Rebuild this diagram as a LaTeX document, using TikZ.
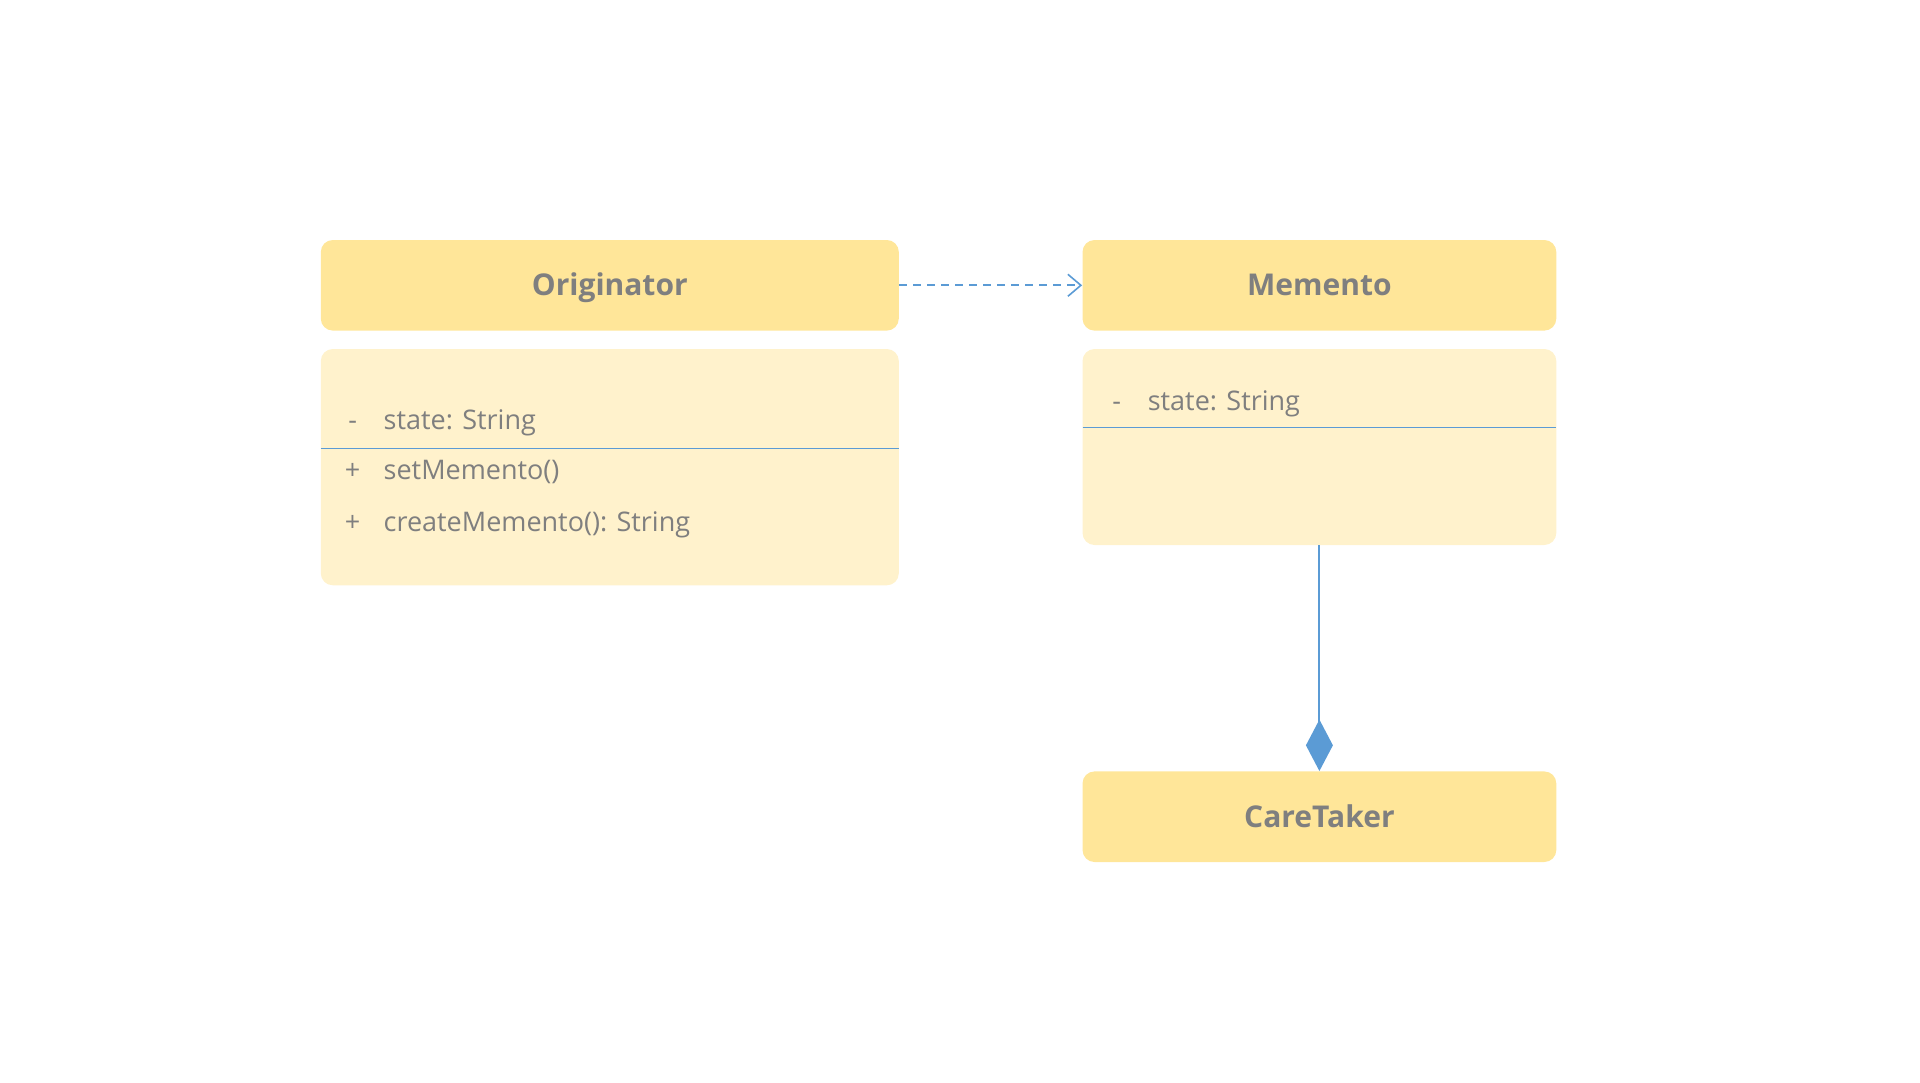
\documentclass[tikz,border=0pt]{standalone}
\usepackage{fontspec}
\setmainfont{Open Sans}
\usetikzlibrary{arrows.meta}
\definecolor{headfill}{HTML}{FFE699}
\definecolor{bodyfill}{HTML}{FFF2CC}
\definecolor{txtgray}{HTML}{7F7F7F}
\definecolor{lineblue}{HTML}{5B9BD5}
\tikzset{
  header/.style={fill=headfill, draw=none, rounded corners=6pt, minimum width=#1, minimum height=45.3pt, inner sep=0pt, text=txtgray, text height=1.06em, text depth=0em, font=\fontsize{15}{18}\selectfont\bfseries},
  bodybox/.style={fill=bodyfill, draw=none, rounded corners=6pt, inner sep=0pt},
  member/.style={anchor=west, inner sep=0pt, text=txtgray, text height=0.75em, text depth=0.22em, font=\fontsize{13.5}{16}\selectfont},
  vis/.style={anchor=center, inner sep=0pt, text=txtgray, text height=0.75em, text depth=0.22em, font=\fontsize{13.5}{16}\selectfont},
  sepline/.style={draw=lineblue, line width=0.5pt},
  depend/.style={draw=lineblue, line width=0.9pt, dash pattern=on 4pt off 3pt, -{Straight Barb[length=6.5pt, width=11pt, line width=0.8pt]}},
  compos/.style={draw=lineblue, line width=1pt, -{Diamond[length=25.7pt, width=13.5pt, fill=lineblue]}}
}
\begin{document}
\begin{tikzpicture}[x=0.5pt,y=-0.5pt]
\useasboundingbox (0,0) rectangle (1920,1082);
% Originator
\node[header=289pt] (orig) at (609.8,285.3) {Originator};
\path[bodybox] (320.8,349) rectangle (898.8,585.3);
\node[minimum width=289pt, minimum height=118.15pt, inner sep=0pt] (origbody) at (609.8,467.15) {};
\draw[sepline] (320.8,448.2) -- (898.8,448.2);
\node[vis] (o1v) at (352.7,424.3) {-};
\node[member] (o1) at (383.3,424.3) {state: String};
\node[vis] (o2v) at (352.7,474.5) {+};
\node[member] (o2) at (383.3,474.5) {setMemento()};
\node[vis] (o3v) at (352.7,525.9) {+};
\node[member] (o3) at (383.3,525.9) {createMemento(): String};
% Memento
\node[header=236.9pt] (mem) at (1319.4,285.3) {Memento};
\path[bodybox] (1082.5,349) rectangle (1556.3,545);
\node[minimum width=236.9pt, minimum height=98pt, inner sep=0pt] (membody) at (1319.4,447) {};
\draw[sepline] (1082.5,427.4) -- (1556.3,427.4);
\node[vis] (m1v) at (1116.7,404.7) {-};
\node[member] (m1) at (1147.4,404.7) {state: String};
% CareTaker
\node[header=236.9pt] (care) at (1319.4,816.7) {CareTaker};
% connectors
\draw[depend] (orig.east) -- (mem.west);
\draw[compos] (membody.south) -- (care.north);
\end{tikzpicture}
\end{document}
